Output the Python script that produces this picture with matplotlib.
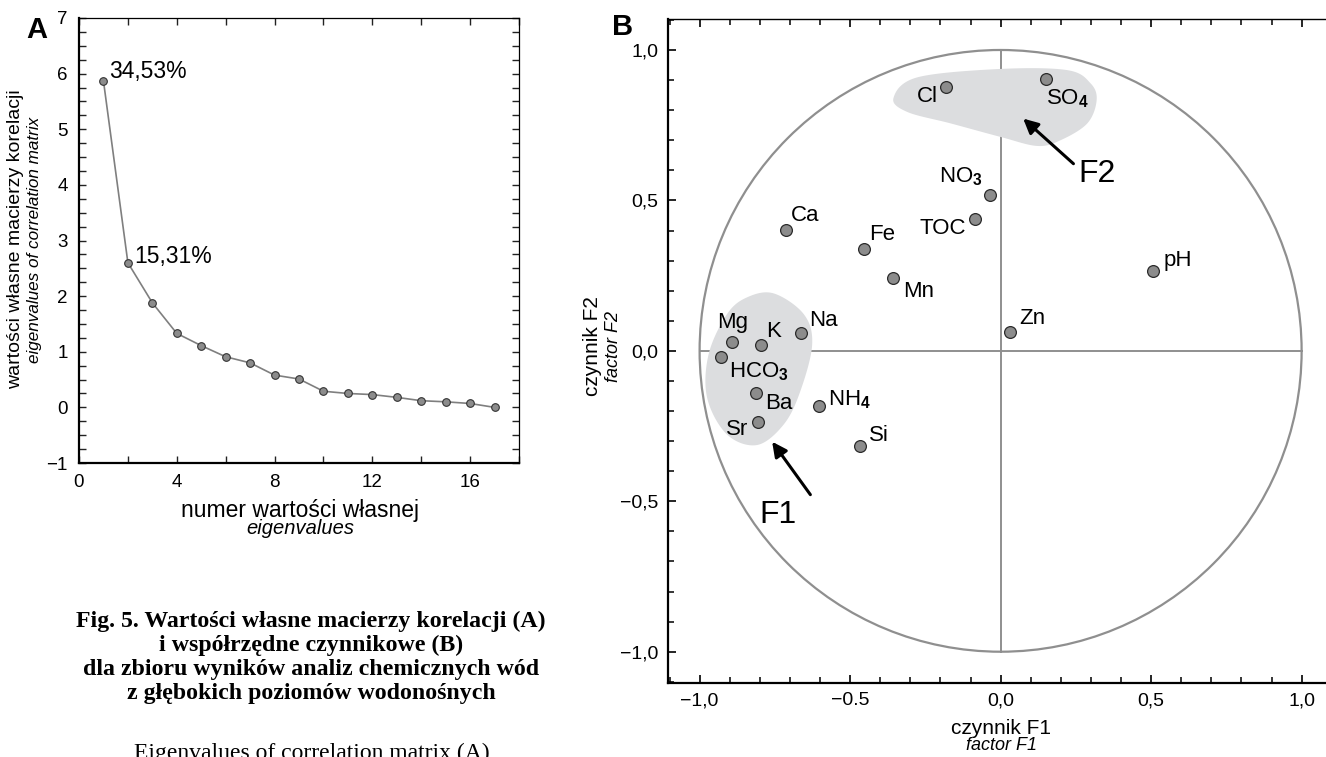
import numpy as np
import matplotlib
matplotlib.use("Agg")
import matplotlib.pyplot as plt
from matplotlib.patches import Circle, Polygon
from matplotlib.ticker import MultipleLocator, FixedLocator

plt.rcParams['font.family'] = ['Liberation Sans', 'DejaVu Sans']
plt.rcParams['mathtext.fontset'] = 'custom'
plt.rcParams['mathtext.rm'] = 'Liberation Sans'
plt.rcParams['mathtext.bf'] = 'Liberation Sans:bold'

# --- panel A: scree plot
eig_num = [1, 2, 3, 4, 5, 6, 7, 8, 9, 10, 11, 12, 13, 14, 15, 16, 17]
eig_val = [5.87, 2.60, 1.88, 1.33, 1.11, 0.91, 0.80, 0.58, 0.51, 0.29,
           0.25, 0.23, 0.18, 0.12, 0.10, 0.07, 0.00]
eig_pct = {0: "34,53%", 1: "15,31%"}

# --- panel B: factor loadings
var_names = ["Cl", "SO$_\\mathbf{4}$", "NO$_\\mathbf{3}$", "TOC", "pH", "Zn", "Mn",
             "Mg", "K", "Na", "HCO$_\\mathbf{3}$", "Ba", "Sr", "NH$_\\mathbf{4}$",
             "Si", "Ca", "Fe"]
f1 = [-0.18, 0.15, -0.036, -0.086, 0.507, 0.03, -0.358,
      -0.894, -0.796, -0.663, -0.929, -0.812, -0.807, -0.604,
      -0.468, -0.714, -0.454]
f2 = [0.877, 0.903, 0.519, 0.439, 0.267, 0.063, 0.242,
      0.030, 0.018, 0.058, -0.022, -0.139, -0.237, -0.183,
      -0.317, 0.403, 0.339]
# label offsets from the point, pixels (x right, y down)
lab_off = [(-19, 10), (22, 20), (-29, -18), (-32, 10), (25, -10), (23, -13), (26, 13),
           (1, -19), (13, -14), (22, -13), (38, 14), (23, 11), (-21, 7), (31, -6),
           (19, -11), (19, -14), (18, -14)]

# outlines of the shaded groups (F1, F2)
blob_f1 = [(-0.754, 0.191), (-0.654, 0.122), (-0.626, 0.022), (-0.665, -0.133),
           (-0.72, -0.244), (-0.809, -0.313), (-0.909, -0.278), (-0.975, -0.156),
           (-0.97, -0.011), (-0.909, 0.122), (-0.842, 0.178)]
blob_f2 = [(-0.356, 0.84), (-0.277, 0.909), (0.0, 0.937), (0.222, 0.933),
           (0.299, 0.889), (0.319, 0.833), (0.288, 0.756), (0.199, 0.70),
           (0.122, 0.681), (0.0, 0.711), (-0.166, 0.756), (-0.31, 0.794)]


def smooth_closed(pts, n=20):
    P = np.asarray(pts)
    m = len(P)
    t = np.linspace(0, 1, n, endpoint=False)[:, None]
    out = []
    for i in range(m):
        p0, p1, p2, p3 = P[i - 1], P[i], P[(i + 1) % m], P[(i + 2) % m]
        out.append(0.5 * (2 * p1 + (-p0 + p2) * t + (2 * p0 - 5 * p1 + 4 * p2 - p3) * t ** 2
                          + (-p0 + 3 * p1 - 3 * p2 + p3) * t ** 3))
    return np.vstack(out)


W, H = 1326, 757
fig = plt.figure(figsize=(W / 100, H / 100), dpi=100)


def fx(x):
    return x / W


def fy(y):
    return 1 - y / H


# ================= A =================
axA = fig.add_axes([fx(79), fy(463), (519 - 79) / W, (463 - 18) / H])
axA.plot(eig_num, eig_val, color='#7f7f7f', lw=1.2, zorder=2)
axA.plot(eig_num, eig_val, 'o', ms=5.5, mfc='#8c8c8c', mec='#333333', mew=0.8, zorder=3)
for i, txt in eig_pct.items():
    axA.annotate(txt, (eig_num[i], eig_val[i]), xytext=(6, 9 if i == 0 else 6),
                 textcoords='offset pixels', ha='left', va='center', fontsize=16.5)
axA.set_xlim(0, 18)
axA.set_ylim(-1, 7)
axA.xaxis.set_major_locator(FixedLocator([0, 4, 8, 12, 16]))
axA.xaxis.set_minor_locator(MultipleLocator(2))
axA.yaxis.set_minor_locator(MultipleLocator(0.25))
axA.set_yticks(range(-1, 8))
axA.set_yticklabels(["\u22121"] + [str(v) for v in range(0, 8)])
axA.tick_params(which='both', direction='in', top=True, right=True, length=5,
                width=1, labelsize=13.5, pad=8, color='#222222')
for s in ['left', 'bottom']:
    axA.spines[s].set_linewidth(1.6)
for s in ['top', 'right']:
    axA.spines[s].set_linewidth(0.9)
fig.text(fx(300), fy(510), "numer wartości własnej", ha='center', va='center', fontsize=16.5)
fig.text(fx(300), fy(529), "eigenvalues", ha='center', va='center', fontsize=14.5, style='italic')
fig.text(fx(16), fy(239), "wartości własne macierzy korelacji", rotation=90,
         ha='center', va='center', fontsize=14)
fig.text(fx(35), fy(240), "eigenvalues of correlation matrix", rotation=90,
         ha='center', va='center', fontsize=12.3, style='italic')
fig.text(fx(37), fy(30), "A", ha='center', va='center', fontsize=21, weight='bold')

# caption
cap = ["Fig. 5. Wartości własne macierzy korelacji (A)",
       "i współrzędne czynnikowe (B)",
       "dla zbioru wyników analiz chemicznych wód",
       "z głębokich poziomów wodonośnych"]
for k, line in enumerate(cap):
    fig.text(fx(311), fy(621 + 24 * k), line, ha='center', va='center', fontsize=17.2,
             weight='bold', family=['Liberation Serif', 'DejaVu Serif'])
fig.text(fx(312), fy(753), "Eigenvalues of correlation matrix (A)", ha='center', va='center',
         fontsize=17, family=['Liberation Serif', 'DejaVu Serif'])

# ================= B =================
axB = fig.add_axes([fx(668.3), fy(682.7), (W - 668.3) / W, (682.7 - 19.3) / H])
axB.set_xlim(-1.104, 1.081)
axB.set_ylim(-1.103, 1.102)
grey = '#8f8f8f'
axB.add_patch(Circle((0, 0), 1.0, fill=False, ec=grey, lw=1.6, zorder=1))
axB.plot([-1, 1], [0, 0], color=grey, lw=1.4, zorder=1)
axB.plot([0, 0], [-1, 1], color=grey, lw=1.4, zorder=1)
for b in (blob_f1, blob_f2):
    axB.add_patch(Polygon(smooth_closed(b), closed=True, fc='#dcdddf', ec='none', zorder=2))
axB.scatter(f1, f2, s=72, c='#8c8c8c', edgecolors='#2a2a2a', linewidths=0.9, zorder=4)
for name, x, y, (dx, dy) in zip(var_names, f1, f2, lab_off):
    axB.annotate(name, (x, y), xytext=(dx, -dy), textcoords='offset pixels',
                 ha='center', va='center', fontsize=16, zorder=5)

arrow = dict(arrowstyle='-|>', lw=2.2, color='black', mutation_scale=22,
             shrinkA=0, shrinkB=0)
axB.annotate("", xy=(-0.759, -0.302), xytext=(-0.632, -0.478), arrowprops=arrow, zorder=6)
axB.annotate("", xy=(0.075, 0.772), xytext=(0.242, 0.622), arrowprops=arrow, zorder=6)
axB.text(-0.738, -0.547, "F1", ha='center', va='center', fontsize=23)
axB.text(0.319, 0.589, "F2", ha='center', va='center', fontsize=23)

axB.xaxis.set_major_locator(FixedLocator([-1, -0.5, 0, 0.5, 1]))
axB.yaxis.set_major_locator(FixedLocator([-1, -0.5, 0, 0.5, 1]))
axB.xaxis.set_minor_locator(MultipleLocator(0.1))
axB.yaxis.set_minor_locator(MultipleLocator(0.1))
axB.set_xticklabels(["\u22121,0", "\u22120.5", "0,0", "0,5", "1,0"])
axB.set_yticklabels(["\u22121,0", "\u22120,5", "0,0", "0,5", "1,0"])
axB.tick_params(which='major', direction='in', top=True, length=6, width=1.2,
                labelsize=14, pad=7)
axB.tick_params(which='minor', direction='in', top=True, length=4.5, width=1.1)
axB.spines['right'].set_visible(False)
for s in ['left', 'bottom']:
    axB.spines[s].set_linewidth(1.6)
axB.spines['top'].set_linewidth(1.0)
fig.text(fx(1001), fy(729), "czynnik F1", ha='center', va='center', fontsize=15)
fig.text(fx(1001), fy(746), "factor F1", ha='center', va='center', fontsize=13, style='italic')
fig.text(fx(593), fy(346), "czynnik F2", rotation=90, ha='center', va='center', fontsize=15)
fig.text(fx(614), fy(346), "factor F2", rotation=90, ha='center', va='center',
         fontsize=13, style='italic')
fig.text(fx(623), fy(27), "B", ha='center', va='center', fontsize=21, weight='bold')

fig.savefig("out.png", dpi=100)
